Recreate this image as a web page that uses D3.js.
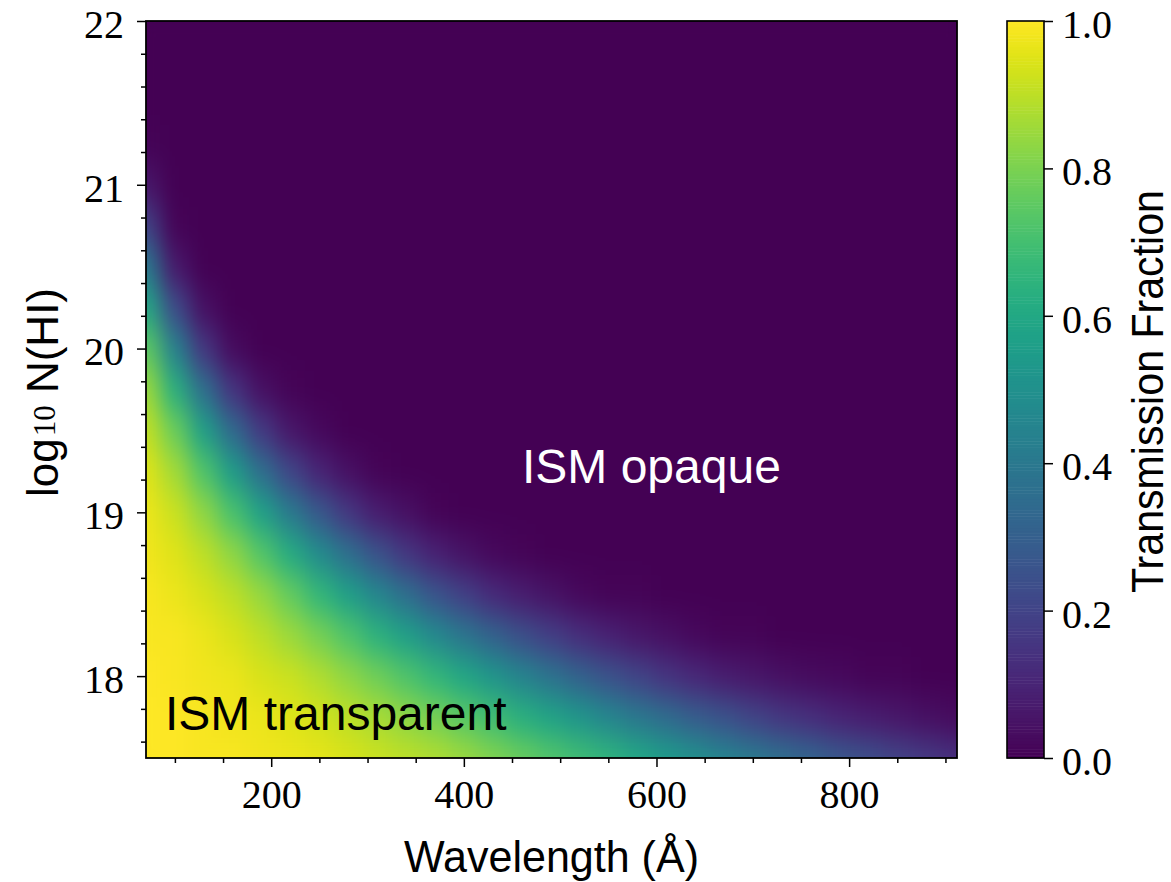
<!DOCTYPE html>
<html>
<head>
<meta charset="utf-8">
<style>
  body { margin: 0; background: #fff; }
  svg { display: block; }
</style>
</head>
<body>
<svg width="1171" height="882"></svg>
<script src="https://d3js.org/d3.v7.min.js"></script>
<script>
    var svg = d3.select("svg");
    var serif = "'Liberation Serif', 'Times New Roman', serif",
        sans = "'Liberation Sans', Arial, Helvetica, sans-serif";

    // grid of the image: sample wavelengths (Angstrom) and log10 column densities
    var wavelengths = [70, 100, 130, 160, 190, 220, 250, 280, 310, 340, 370, 400, 430, 460, 490,
        520, 550, 580, 610, 640, 670, 700, 730, 760, 790, 820, 850, 880, 910];
    var logNH = [17.5, 17.75, 18, 18.25, 18.5, 18.75, 19, 19.25, 19.5, 19.75, 20, 20.25,
        20.5, 20.75, 21, 21.25, 21.5, 21.75, 22];
    // transmission fraction, one row per logNH value, one column per wavelength
    var transmission = [
        [1.00, 1.00, 0.99, 0.99, 0.98, 0.97, 0.96, 0.94, 0.92, 0.90, 0.88, 0.85, 0.81, 0.77, 0.73, 0.69, 0.65, 0.60, 0.55, 0.50, 0.45, 0.41, 0.36, 0.32, 0.27, 0.24, 0.20, 0.17, 0.14],
        [1.00, 1.00, 0.99, 0.98, 0.97, 0.95, 0.93, 0.90, 0.87, 0.83, 0.79, 0.74, 0.69, 0.63, 0.58, 0.52, 0.46, 0.40, 0.35, 0.29, 0.25, 0.20, 0.16, 0.13, 0.10, 0.08, 0.06, 0.04, 0.03],
        [1.00, 0.99, 0.98, 0.97, 0.94, 0.92, 0.88, 0.83, 0.78, 0.72, 0.66, 0.59, 0.52, 0.45, 0.38, 0.31, 0.25, 0.20, 0.15, 0.11, 0.08, 0.06, 0.04, 0.03, 0.02, 0.01, 0.01, 0, 0],
        [0.99, 0.99, 0.97, 0.94, 0.90, 0.85, 0.79, 0.72, 0.64, 0.56, 0.47, 0.39, 0.31, 0.24, 0.18, 0.13, 0.09, 0.06, 0.04, 0.02, 0.01, 0.01, 0, 0, 0, 0, 0, 0, 0],
        [0.99, 0.97, 0.94, 0.90, 0.84, 0.76, 0.66, 0.56, 0.46, 0.36, 0.26, 0.19, 0.12, 0.08, 0.05, 0.02, 0.01, 0.01, 0, 0, 0, 0, 0, 0, 0, 0, 0, 0, 0],
        [0.98, 0.95, 0.90, 0.83, 0.73, 0.61, 0.48, 0.36, 0.25, 0.16, 0.09, 0.05, 0.02, 0.01, 0, 0, 0, 0, 0, 0, 0, 0, 0, 0, 0, 0, 0, 0, 0],
        [0.97, 0.92, 0.83, 0.71, 0.57, 0.41, 0.27, 0.16, 0.08, 0.04, 0.01, 0, 0, 0, 0, 0, 0, 0, 0, 0, 0, 0, 0, 0, 0, 0, 0, 0, 0],
        [0.95, 0.86, 0.72, 0.55, 0.36, 0.21, 0.10, 0.04, 0.01, 0, 0, 0, 0, 0, 0, 0, 0, 0, 0, 0, 0, 0, 0, 0, 0, 0, 0, 0, 0],
        [0.91, 0.77, 0.56, 0.34, 0.17, 0.06, 0.02, 0, 0, 0, 0, 0, 0, 0, 0, 0, 0, 0, 0, 0, 0, 0, 0, 0, 0, 0, 0, 0, 0],
        [0.85, 0.63, 0.36, 0.15, 0.04, 0.01, 0, 0, 0, 0, 0, 0, 0, 0, 0, 0, 0, 0, 0, 0, 0, 0, 0, 0, 0, 0, 0, 0, 0],
        [0.75, 0.44, 0.16, 0.03, 0, 0, 0, 0, 0, 0, 0, 0, 0, 0, 0, 0, 0, 0, 0, 0, 0, 0, 0, 0, 0, 0, 0, 0, 0],
        [0.60, 0.23, 0.04, 0, 0, 0, 0, 0, 0, 0, 0, 0, 0, 0, 0, 0, 0, 0, 0, 0, 0, 0, 0, 0, 0, 0, 0, 0, 0],
        [0.41, 0.07, 0, 0, 0, 0, 0, 0, 0, 0, 0, 0, 0, 0, 0, 0, 0, 0, 0, 0, 0, 0, 0, 0, 0, 0, 0, 0, 0],
        [0.20, 0.01, 0, 0, 0, 0, 0, 0, 0, 0, 0, 0, 0, 0, 0, 0, 0, 0, 0, 0, 0, 0, 0, 0, 0, 0, 0, 0, 0],
        [0.06, 0, 0, 0, 0, 0, 0, 0, 0, 0, 0, 0, 0, 0, 0, 0, 0, 0, 0, 0, 0, 0, 0, 0, 0, 0, 0, 0, 0],
        [0.01, 0, 0, 0, 0, 0, 0, 0, 0, 0, 0, 0, 0, 0, 0, 0, 0, 0, 0, 0, 0, 0, 0, 0, 0, 0, 0, 0, 0],
        [0, 0, 0, 0, 0, 0, 0, 0, 0, 0, 0, 0, 0, 0, 0, 0, 0, 0, 0, 0, 0, 0, 0, 0, 0, 0, 0, 0, 0],
        [0, 0, 0, 0, 0, 0, 0, 0, 0, 0, 0, 0, 0, 0, 0, 0, 0, 0, 0, 0, 0, 0, 0, 0, 0, 0, 0, 0, 0],
        [0, 0, 0, 0, 0, 0, 0, 0, 0, 0, 0, 0, 0, 0, 0, 0, 0, 0, 0, 0, 0, 0, 0, 0, 0, 0, 0, 0, 0]
    ];

    var xTicks = [200, 400, 600, 800],
        xMinorTicks = [100, 150, 250, 300, 350, 450, 500, 550, 650, 700, 750, 850, 900];
    var yTicks = [18, 19, 20, 21, 22],
        yMinorTicks = [17.6, 17.8, 18.2, 18.4, 18.6, 18.8, 19.2, 19.4, 19.6, 19.8,
            20.2, 20.4, 20.6, 20.8, 21.2, 21.4, 21.6, 21.8];
    var cbarTicks = [0, 0.2, 0.4, 0.6, 0.8, 1.0];

    var x = d3.scaleLinear().domain([70, 912]).range([146, 957]);
    var y = d3.scaleLinear().domain([17.5, 22]).range([758, 21]);
    var cb = d3.scaleLinear().domain([0, 1]).range([758, 21]);
    var color = d3.scaleSequential(d3.interpolateViridis).domain([0, 1]);

    var defs = svg.append("defs");
    defs.append("clipPath").attr("id", "plotclip").append("rect")
        .attr("x", x(70)).attr("y", y(22))
        .attr("width", x(912) - x(70)).attr("height", y(17.5) - y(22));
    // smooth the grid like an interpolated image; alpha reset keeps the edges full colour
    var filt = defs.append("filter").attr("id", "smooth")
        .attr("filterUnits", "userSpaceOnUse")
        .attr("x", 90).attr("y", -40).attr("width", 920).attr("height", 860)
        .attr("color-interpolation-filters", "sRGB");
    filt.append("feGaussianBlur").attr("stdDeviation", "10 15");
    filt.append("feComponentTransfer").append("feFuncA")
        .attr("type", "table").attr("tableValues", "1 1");

    var cells = [];
    logNH.forEach(function(n, i) {
        wavelengths.forEach(function(w, j) {
            cells.push({ w: w, n: n, t: transmission[i][j] });
        });
    });
    var dw = 15, dn = 0.125;

    svg.append("g").attr("clip-path", "url(#plotclip)")
        .append("g").attr("filter", "url(#smooth)")
        .selectAll("rect").data(cells).enter().append("rect")
        .attr("x", function(d) { return x(d.w - dw); })
        .attr("y", function(d) { return y(d.n + dn); })
        .attr("width", function(d) { return x(d.w + dw) - x(d.w - dw) + 0.6; })
        .attr("height", function(d) { return y(d.n - dn) - y(d.n + dn) + 0.6; })
        .attr("fill", function(d) { return color(d.t); });

    function styleAxis(g) {
        g.select(".domain").remove();
        g.selectAll(".tick line").attr("stroke", "#000").attr("stroke-width", 1.5);
        g.selectAll(".tick text")
            .attr("font-family", serif)
            .attr("font-size", 40)
            .attr("fill", "#000");
    }

    // x axis
    svg.append("g").attr("transform", "translate(0," + y(17.5) + ")")
        .call(d3.axisBottom(x).tickValues(xMinorTicks).tickSize(5).tickFormat(""))
        .call(styleAxis);
    svg.append("g").attr("transform", "translate(0," + y(17.5) + ")")
        .call(d3.axisBottom(x).tickValues(xTicks).tickSize(9).tickPadding(13).tickFormat(d3.format("d")))
        .call(styleAxis);

    // y axis
    svg.append("g").attr("transform", "translate(" + x(70) + ",0)")
        .call(d3.axisLeft(y).tickValues(yMinorTicks).tickSize(5).tickFormat(""))
        .call(styleAxis);
    svg.append("g").attr("transform", "translate(" + x(70) + ",0)")
        .call(d3.axisLeft(y).tickValues(yTicks).tickSize(9).tickPadding(13).tickFormat(d3.format("d")))
        .call(styleAxis)
        .selectAll(".tick text").attr("dy", "0.41em");

    svg.append("rect")
        .attr("x", x(70)).attr("y", y(22))
        .attr("width", x(912) - x(70)).attr("height", y(17.5) - y(22))
        .attr("fill", "none").attr("stroke", "#000").attr("stroke-width", 1.8);

    // colour bar
    var cbX = 1007, cbW = 37, nLevels = 256;
    svg.append("g").selectAll("rect")
        .data(d3.range(nLevels)).enter().append("rect")
        .attr("x", cbX)
        .attr("y", function(i) { return cb((i + 1) / nLevels); })
        .attr("width", cbW)
        .attr("height", function(i) { return cb(i / nLevels) - cb((i + 1) / nLevels) + 0.5; })
        .attr("fill", function(i) { return color((i + 0.5) / nLevels); });
    svg.append("rect")
        .attr("x", cbX).attr("y", cb(1))
        .attr("width", cbW).attr("height", cb(0) - cb(1))
        .attr("fill", "none").attr("stroke", "#000").attr("stroke-width", 1.6);
    svg.append("g").attr("transform", "translate(" + (cbX + cbW) + ",0)")
        .call(d3.axisRight(cb).tickValues(cbarTicks).tickSize(9).tickPadding(9).tickFormat(d3.format(".1f")))
        .call(styleAxis)
        .selectAll(".tick text").attr("dy", "0.41em");

    // axis labels
    svg.append("text")
        .attr("x", (x(70) + x(912)) / 2).attr("y", 872)
        .attr("text-anchor", "middle")
        .attr("font-family", sans).attr("font-size", 44)
        .attr("textLength", 295).attr("lengthAdjust", "spacingAndGlyphs")
        .text("Wavelength (Å)");

    var yl = svg.append("text")
        .attr("transform", "translate(58," + ((y(17.5) + y(22)) / 2 + 3) + ") rotate(-90)")
        .attr("text-anchor", "middle")
        .attr("font-family", sans).attr("font-size", 44);
    yl.append("tspan").text("log");
    yl.append("tspan").attr("font-family", serif).attr("font-size", 31)
        .attr("dx", 2).attr("dy", -3).text("10");
    yl.append("tspan").attr("dy", 3).text(" N(HI)");

    svg.append("text")
        .attr("transform", "translate(1163," + ((cb(0) + cb(1)) / 2 + 2) + ") rotate(-90)")
        .attr("text-anchor", "middle")
        .attr("font-family", sans).attr("font-size", 44)
        .attr("textLength", 403).attr("lengthAdjust", "spacingAndGlyphs")
        .text("Transmission Fraction");

    // annotations
    svg.append("text")
        .attr("x", 522).attr("y", 483)
        .attr("font-family", sans).attr("font-size", 48)
        .attr("fill", "#fff")
        .text("ISM opaque");
    svg.append("text")
        .attr("x", 165).attr("y", 730)
        .attr("font-family", sans).attr("font-size", 48)
        .attr("fill", "#000")
        .text("ISM transparent");
</script>
</body>
</html>
